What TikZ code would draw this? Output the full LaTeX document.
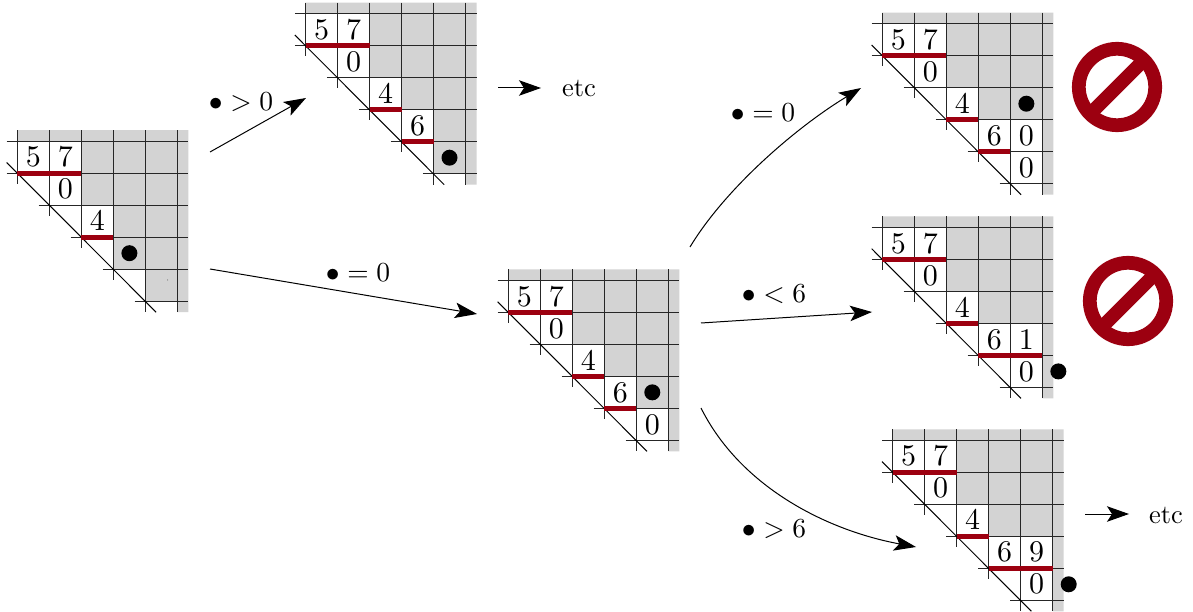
\documentclass[tikz,border=0pt]{standalone}
\usetikzlibrary{arrows.meta}
\definecolor{darkred}{HTML}{9C0010}
\definecolor{boardgray}{HTML}{D3D3D3}
\tikzset{
  gridline/.style={line width=0.45pt,black!85},
  diagline/.style={line width=0.4pt,black},
  redbar/.style={line width=1.9pt,darkred},
  boarddot/.style={circle,fill=black,inner sep=0pt,minimum size=6.4pt},
  conn/.style={line width=0.4pt,-{Stealth[length=8.8pt,width=6.2pt,inset=2pt]}},
  lab/.style={inner sep=0pt,scale=1.1},
  word/.style={inner sep=0pt,scale=1.06},
  digit/.style={inner sep=0pt,scale=1.2},
  forbid/.style={line width=5.5pt,darkred},
}
% name, x0, y0, numbers (col/row/text), red bars (from/to/row), dot (col/row)
\newcommand{\Board}[7]{%
\begin{scope}[shift={(#2,#3)}]
  \fill[boardgray] (0,-11) -- (171,-11) -- (171,171) -- (160,171) -- (160,160) -- (128,160) -- (128,128) -- (96,128) -- (96,96) -- (64,96) -- (64,64) -- (32,64) -- (32,32) -- (0,32) -- cycle;
  \foreach \c/\r/\t in {#4} \fill[white] (32*\c,32*\r) rectangle ++(32,32);
  \foreach \i/\s in {0/0,1/0,2/32,3/64,4/96,5/128}
    \draw[gridline] ({\s-10.7},32*\i) -- (171,32*\i);
  \foreach \j/\e in {0/42.7,1/74.7,2/106.7,3/138.7,4/171,5/171}
    \draw[gridline] (32*\j,-11) -- (32*\j,\e);
  \draw[diagline] (-10.7,21.3) -- (138.7,171);
  \foreach \a/\b/\r in {#5} \draw[redbar] (32*\a,32*\r+32) -- (32*\b+32,32*\r+32);
  \foreach \c/\r/\t in {#4} \node[digit] (#1-\c-\r) at (32*\c+16,32*\r+16) {$\t$};
  \node[boarddot] (#1-dot) at (32*#6+16,32*#7+16) {};
\end{scope}}
\begin{document}
\begin{tikzpicture}[x=0.4pt,y=-0.4pt]
\useasboundingbox (0,0) rectangle (1193,612);
\Board{A}{17.4}{141.2}{0/0/5,1/0/7,1/1/0,2/2/4}{0/1/0,2/2/2}{3}{3}
\fill[black!70] (167.6,280) circle (0.5);
\Board{B}{305.5}{13.7}{0/0/5,1/0/7,1/1/0,2/2/4,3/3/6}{0/1/0,2/2/2,3/3/3}{4}{4}
\Board{C}{508.3}{280.35}{0/0/5,1/0/7,1/1/0,2/2/4,3/3/6,4/4/0}{0/1/0,2/2/2,3/3/3}{4}{3}
\Board{D}{882.35}{23.7}{0/0/5,1/0/7,1/1/0,2/2/4,3/3/6,4/3/0,4/4/0}{0/1/0,2/2/2,3/3/3}{4}{2}
\Board{E}{882.35}{227.4}{0/0/5,1/0/7,1/1/0,2/2/4,3/3/6,4/3/1,4/4/0}{0/1/0,2/2/2,3/4/3}{5}{4}
\Board{F}{892.7}{440.3}{0/0/5,1/0/7,1/1/0,2/2/4,3/3/6,4/3/9,4/4/0}{0/1/0,2/2/2,3/4/3}{5}{4}

\coordinate (a1) at (210,152); \coordinate (a2) at (306,98);
\coordinate (b1) at (210,269); \coordinate (b2) at (477,314);
\coordinate (c1) at (498,88);  \coordinate (c2) at (541,88);
\coordinate (d1) at (690,247); \coordinate (d2) at (861,88);
\coordinate (e1) at (701,323); \coordinate (e2) at (872,312);
\coordinate (f1) at (701,408); \coordinate (f2) at (916,547);
\coordinate (g1) at (1085,514);\coordinate (g2) at (1129,514);
\draw[conn] (a1) -- (a2);
\draw[conn] (b1) -- (b2);
\draw[conn] (c1) -- (c2);
\draw[conn] (d1) .. controls (725,189) and (795,128) .. (d2);
\draw[conn] (e1) -- (e2);
\draw[conn] (f1) .. controls (740,486) and (825,530) .. (f2);
\draw[conn] (g1) -- (g2);

\node[lab] (l1) at (241,102) {$\bullet>0$};
\node[lab] (l2) at (358,273) {$\bullet=0$};
\node[lab] (l3) at (763,113) {$\bullet=0$};
\node[lab] (l4) at (774,294) {$\bullet<6$};
\node[lab] (l5) at (774,529) {$\bullet>6$};
\node[word] (t1) at (579,88) {etc};
\node[word] (t2) at (1166,515) {etc};

\foreach \x/\y in {1117/87,1128/301}{
  \draw[forbid] (\x,\y) circle (38.2);
  \draw[forbid] ({\x-27},{\y+27}) -- ({\x+27},{\y-27});
}
\end{tikzpicture}
\end{document}
